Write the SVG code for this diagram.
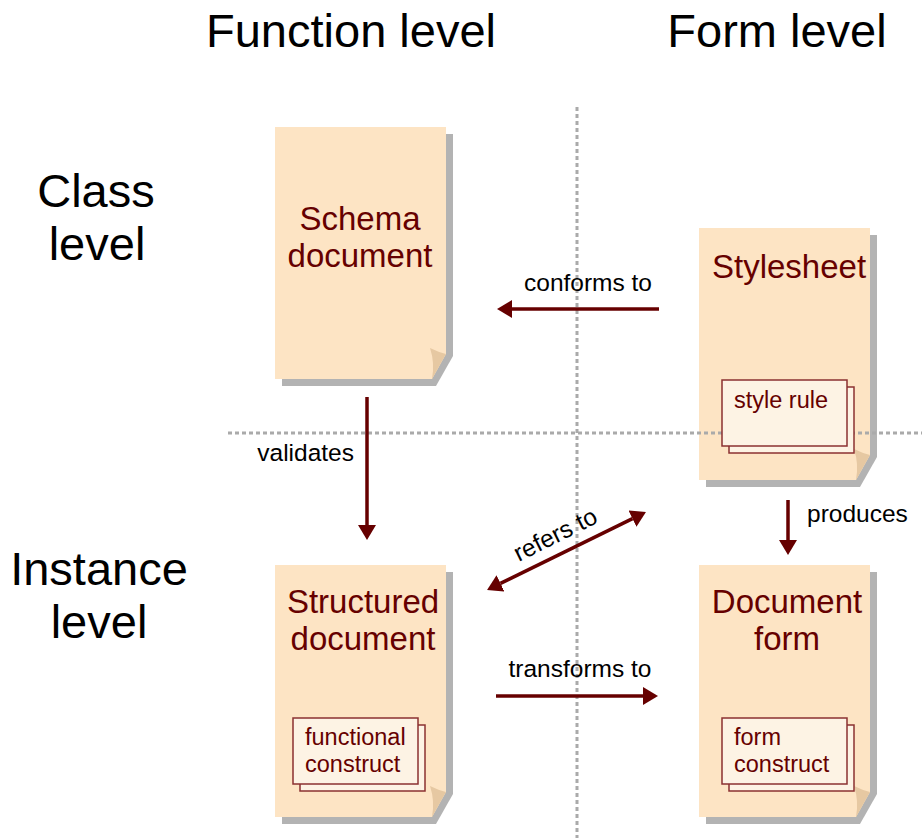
<svg xmlns="http://www.w3.org/2000/svg" xmlns:xlink="http://www.w3.org/1999/xlink" width="922" height="838" viewBox="0 0 922 838">
  <style>
    .head { font-family: "Liberation Sans", Arial, sans-serif; font-size: 47px; fill: #000; text-anchor: middle; }
    .title { font-family: "Liberation Sans", Arial, sans-serif; font-size: 33px; fill: #660000; text-anchor: middle; }
    .item { font-family: "Liberation Sans", Arial, sans-serif; font-size: 23.5px; fill: #660000; }
    .lbl { font-family: "Liberation Sans", Arial, sans-serif; font-size: 24.5px; fill: #000; }
    .guide { stroke: #aaaaaa; stroke-width: 3; stroke-dasharray: 4 3; fill: none; }
    .conn { stroke: #660000; stroke-width: 3.5; fill: none; }
    .card { fill: #fdf3e4; stroke: #8b3030; stroke-width: 1.5; }
  </style>
  <defs>
    <!-- sheet of paper with drop shadow and curled corner -->
    <g id="page">
      <path d="M7,7 H178 V229 L161,259 H7 Z" fill="#b3b3b3"/>
      <path d="M0,0 H171 V227 L157,252 H0 Z" fill="#fde4c4"/>
      <path d="M155,221 Q163,225 171,227 L157,252 Q160,236 155,221 Z" fill="#e6c8a2"/>
    </g>
    <!-- two stacked cards -->
    <g id="cards">
      <rect class="card" x="7" y="7" width="125" height="66"/>
      <rect class="card" x="0" y="0" width="125" height="66"/>
    </g>
    <marker id="head" markerUnits="userSpaceOnUse" markerWidth="16" markerHeight="18" refX="0" refY="9" orient="auto-start-reverse" viewBox="0 0 16 18">
      <path d="M0,0 L15,9 L0,18 Z" fill="#660000"/>
    </marker>
  </defs>

  <!-- row and column headings -->
  <g id="headings">
    <text class="head" x="351" y="47">Function level</text>
    <text class="head" x="777" y="47">Form level</text>
    <text class="head" x="96" y="207">Class</text>
    <text class="head" x="97" y="260">level</text>
    <text class="head" x="99" y="585">Instance</text>
    <text class="head" x="99" y="638">level</text>
  </g>

  <!-- documents -->
  <g id="schema-document">
    <use xlink:href="#page" href="#page" x="275" y="127"/>
    <text class="title" x="360" y="230">Schema</text>
    <text class="title" x="360" y="267">document</text>
  </g>
  <g id="stylesheet">
    <use xlink:href="#page" href="#page" x="699" y="228"/>
    <text class="title" x="789" y="278">Stylesheet</text>
  </g>
  <g id="structured-document">
    <use xlink:href="#page" href="#page" x="275" y="565"/>
    <text class="title" x="363" y="613">Structured</text>
    <text class="title" x="363" y="650">document</text>
  </g>
  <g id="document-form">
    <use xlink:href="#page" href="#page" x="699" y="565"/>
    <text class="title" x="787" y="613">Document</text>
    <text class="title" x="787" y="650">form</text>
  </g>

  <!-- quadrant dividers -->
  <g id="guides">
    <line class="guide" x1="577" y1="107" x2="577" y2="838"/>
    <line class="guide" x1="228" y1="433" x2="922" y2="433"/>
  </g>

  <!-- constructs inside documents -->
  <g id="style-rule">
    <use xlink:href="#cards" href="#cards" x="722" y="380"/>
    <text class="item" x="734" y="408">style rule</text>
  </g>
  <g id="functional-construct">
    <use xlink:href="#cards" href="#cards" x="293" y="718"/>
    <text class="item" x="305" y="745">functional</text>
    <text class="item" x="305" y="772">construct</text>
  </g>
  <g id="form-construct">
    <use xlink:href="#cards" href="#cards" x="722" y="718"/>
    <text class="item" x="734" y="745">form</text>
    <text class="item" x="734" y="772">construct</text>
  </g>

  <!-- relations -->
  <g id="connectors">
    <line class="conn" x1="659" y1="309" x2="512" y2="309" marker-end="url(#head)"/>
    <text class="lbl" x="588" y="291" text-anchor="middle">conforms to</text>

    <line class="conn" x1="367" y1="397" x2="367" y2="525" marker-end="url(#head)"/>
    <text class="lbl" x="354" y="461" text-anchor="end">validates</text>

    <line class="conn" x1="788" y1="500" x2="788" y2="540" marker-end="url(#head)"/>
    <text class="lbl" x="807" y="522">produces</text>

    <line class="conn" x1="500.5" y1="583.4" x2="632.5" y2="518.6" marker-start="url(#head)" marker-end="url(#head)"/>
    <text class="lbl" x="559" y="542" text-anchor="middle" transform="rotate(-26.5 559 542)">refers to</text>

    <line class="conn" x1="496" y1="696" x2="643" y2="696" marker-end="url(#head)"/>
    <text class="lbl" x="580" y="677" text-anchor="middle">transforms to</text>
  </g>
</svg>
